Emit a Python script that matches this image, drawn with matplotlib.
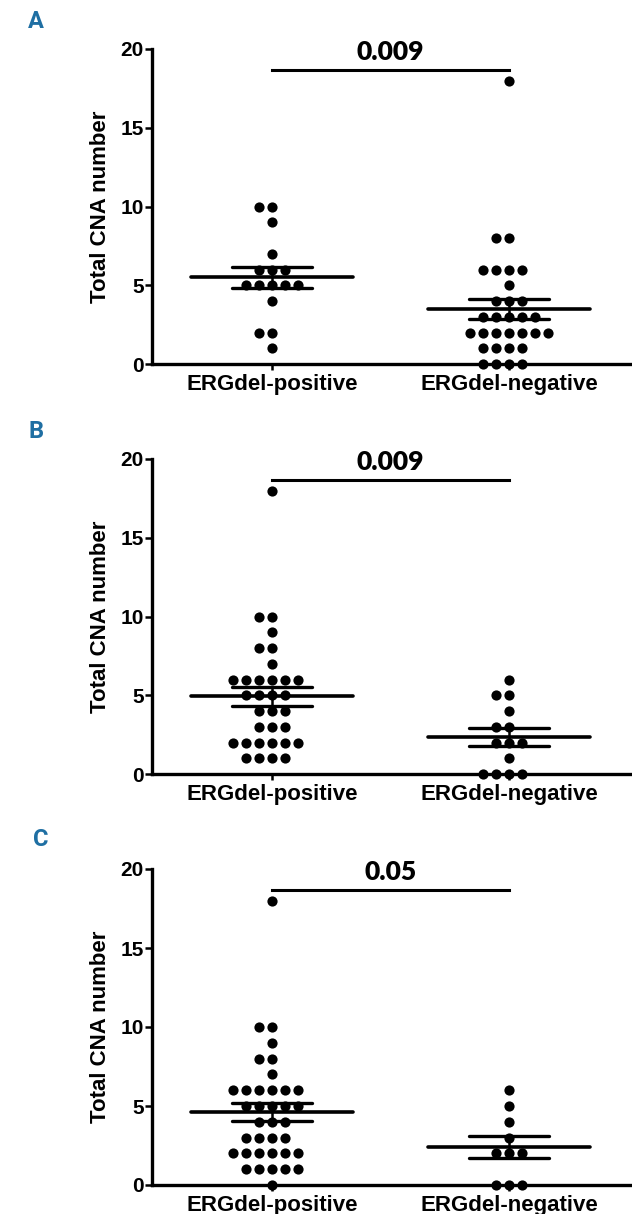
import numpy as np
import matplotlib
matplotlib.use("Agg")
import matplotlib.pyplot as plt

# ---- data ----
categories = ["ERGdel-positive", "ERGdel-negative"]
panel_labels = ["A", "B", "C"]
p_values = ["0.009", "0.009", "0.05"]

a_pos = [10, 10, 9, 7, 6, 6, 6, 5, 5, 5, 5, 5, 4, 2, 2, 1]
a_neg = [18, 8, 8, 6, 6, 6, 6, 5, 4, 4, 4, 3, 3, 3, 3, 3,
         2, 2, 2, 2, 2, 2, 2, 1, 1, 1, 1, 0, 0, 0, 0]
b_pos = [18, 10, 10, 9, 8, 8, 7, 6, 6, 6, 6, 6, 6, 5, 5, 5, 5,
         4, 4, 4, 3, 3, 3, 2, 2, 2, 2, 2, 2, 1, 1, 1, 1]
b_neg = [6, 5, 5, 4, 3, 3, 2, 2, 2, 1, 0, 0, 0, 0]
c_pos = [18, 10, 10, 9, 8, 8, 7, 6, 6, 6, 6, 6, 6, 5, 5, 5, 5, 5,
         4, 4, 4, 3, 3, 3, 3, 2, 2, 2, 2, 2, 2, 1, 1, 1, 1, 1, 0]
c_neg = [6, 5, 4, 3, 2, 2, 2, 0, 0, 0]

panels = [(a_pos, a_neg), (b_pos, b_neg), (c_pos, c_neg)]
yticks = [0, 5, 10, 15, 20]
bar_level = 18.67

W, H = 632, 1214
fig = plt.figure(figsize=(W / 100, H / 100), dpi=100)

# axes boxes in pixels: (top, bottom)
boxes = [(49, 364), (459, 774), (869, 1185)]
label_pos = [(28, 22), (28, 431), (33, 839)]
left_px, right_px = 152, 630
xlim = (-0.506, 1.51)
dx = 13.0 / 237.0  # dot spacing in category units

tick_font = dict(family=["Liberation Sans", "DejaVu Sans"], weight="bold")


def swarm(values):
    vals = np.asarray(values)
    xs, ys = [], []
    for v in np.unique(vals):
        n = int(np.sum(vals == v))
        offs = np.arange(n) - n // 2
        xs.extend(list(offs * dx))
        ys.extend([v] * n)
    return np.array(xs), np.array(ys)


for i, ((pos, neg), (top, bot)) in enumerate(zip(panels, boxes)):
    ax = fig.add_axes([left_px / W, 1 - bot / H, (right_px - left_px) / W, (bot - top) / H])
    ax.set_xlim(*xlim)
    ax.set_ylim(0, 20)
    for s in ["top", "right"]:
        ax.spines[s].set_visible(False)
    for s in ["left", "bottom"]:
        ax.spines[s].set_linewidth(2.4)
        ax.spines[s].set_zorder(1)

    for k, vals in enumerate([pos, neg]):
        ox, oy = swarm(vals)
        ax.scatter(k + ox, oy, s=54, color="black", zorder=5, clip_on=False, linewidths=0)
        m = np.mean(vals)
        sem = np.std(vals, ddof=1) / np.sqrt(len(vals))
        ax.plot([k - 0.34, k + 0.34], [m, m], color="black", lw=2.6, zorder=6,
                solid_capstyle="round")
        for yy in (m - sem, m + sem):
            ax.plot([k - 0.17, k + 0.17], [yy, yy], color="black", lw=2.4, zorder=6,
                    solid_capstyle="round")
        ax.plot([k, k], [m - sem, m + sem], color="black", lw=1.8, zorder=6)

    # significance bar
    ax.plot([0, 1], [bar_level, bar_level], color="black", lw=2.2, clip_on=False)
    ax.text(0.5, bar_level + 0.4, p_values[i], ha="center", va="bottom",
            fontsize=19, fontweight="heavy", family=["Lato", "DejaVu Sans"])

    ax.set_yticks(yticks)
    ax.set_yticklabels([str(t) for t in yticks], fontsize=15, **tick_font)
    ax.set_xticks([0, 1])
    ax.set_xticklabels(categories, fontsize=16, **tick_font)
    ax.tick_params(axis="y", length=5, width=1.8, pad=1)
    ax.tick_params(axis="x", length=4, width=1.8, pad=3)
    ax.set_ylabel("Total CNA number", fontsize=16, labelpad=7, **tick_font)

    lx, ly = label_pos[i]
    fig.text(lx / W, 1 - ly / H, panel_labels[i], ha="left", va="center",
             fontsize=17, fontweight="bold", color="#1f6fa3",
             family=["Liberation Sans Narrow", "Roboto", "DejaVu Sans"],
             fontstretch="condensed")

fig.savefig("out.png", dpi=100)
